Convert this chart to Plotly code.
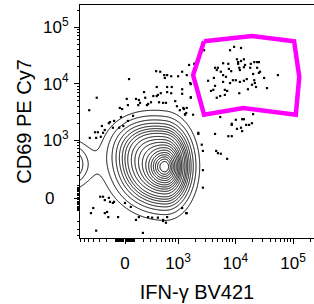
import numpy as np
import plotly.graph_objects as go

# ---------------- axis transform (biexponential-like, display units = decades) ----
LN10 = np.log(10.0)
COF_X = 245.0
COF_Y = 187.0


def disp(v, c):
    return np.arcsinh(np.asarray(v, dtype=float) / c) / LN10


X_RANGE = [-0.78, 3.275]
Y_RANGE = [-0.70, 3.42]

# ---------------- tick labels ----------------
major_vals = [0.0, 1e3, 1e4, 1e5]
x_major_text = ["0", "10<sup>3</sup>", "10<sup>4</sup>", "10<sup>5</sup>"]
y_major_text = ["0&nbsp;&nbsp;&nbsp;", "10<sup>3</sup>", "10<sup>4</sup>", "10<sup>5</sup>"]
minor_mult = [1, 2, 3, 4, 5, 6, 7, 8, 9]
minor_decades = [1e1, 1e2, 1e3, 1e4, 1e5]

# ---------------- outlier events (display units) ----------------
ev_x = [1.11, 1.20, 0.54, 0.61, 0.68, 0.73, 0.80, 0.92, 0.99, 1.07, 0.07, 0.69, 0.55, 0.73,
        0.81, 0.99, 1.13, 0.33, 0.49, 0.55, 0.62, 0.73, 0.80, 0.99, -0.49, 0.19, 0.35, 0.45,
        0.59, 0.66, 0.71, 0.87, 1.14, 0.26, 0.38, -0.62, -0.05, 0.90, 0.95, 1.01, 1.07, 1.04,
        0.14, 0.05, -0.19, -0.28, -0.40, -0.35, -0.21, -0.10, -0.03, -0.52, -0.47, -0.61, -0.50,
        -0.42, -0.38, 1.27, -0.26, -0.07, -0.09, 0.05, 0.23, 0.40, 0.57, 1.02, 1.06, 1.18, 0.03,
        0.24,
        1.21, 1.14, 1.14, 1.65, 1.92, 2.03, 2.06, 2.22, 2.20, 1.85, 1.04, 1.85, 1.94, 2.01, 2.03,
        2.10, 2.15, 1.56, 1.79, 1.85, 1.27, 1.33, 1.58, 1.61, 1.66, 1.77, 1.35, 1.35, 1.35, 1.07,
        0.99, 0.71, 0.66,
        -0.43, -0.35, -0.26, -0.19, -0.55, -0.59, -0.35, -0.29, -0.12, 0.00, 0.10, 0.19, 0.24,
        0.40, 0.47, 0.57, 0.66, 0.73, 1.06, -0.50, 0.31, -0.38, -0.28, -0.21, -0.31]
ev_y = [2.36, 2.38, 2.25, 2.24, 2.18, 2.18, 2.16, 2.16, 2.24, 2.18, 2.11, 2.13, 1.97, 1.97,
        1.97, 1.93, 2.04, 1.88, 1.81, 1.81, 1.86, 1.88, 1.86, 1.85, 1.78, 1.76, 1.78, 1.70,
        1.70, 1.69, 1.69, 1.72, 1.79, 1.69, 1.65, 1.56, 1.58, 1.63, 1.56, 1.60, 1.60, 1.49,
        1.46, 1.37, 1.37, 1.33, 1.28, 1.21, 1.25, 1.25, 1.28, 1.17, 1.17, 1.07, 1.07,
        1.09, 1.16, 1.16, 1.35, 1.44, 1.60, 1.65, 1.65, 1.67, 1.83, 1.58, 1.51, 1.48, 1.76,
        1.74,
        2.38, 2.02, 1.78, 1.44, 1.39, 1.40, 1.40, 1.49, 1.33, 1.32, 1.48, 1.30, 1.23, 1.25, 1.19,
        1.30, 1.30, 1.14, 1.10, 1.10, 1.14, 0.95, 0.84, 0.80, 0.79, 0.70, 0.84, 0.50, 0.19, -0.26,
        -0.17, -0.43, -0.38,
        0.03, -0.03, -0.06, -0.06, -0.17, -0.26, -0.26, -0.33, -0.33, -0.08, -0.15, -0.38, -0.33,
        -0.33, -0.34, -0.34, -0.40, -0.33, -0.26, -0.57, -0.61, 0.03, 0.01, -0.08, -0.24]

# gated events (CD69+ IFN-g+)
gate_ev_x = [1.37, 1.82, 1.89, 2.01, 1.70, 1.79, 1.94, 1.96, 2.01, 2.06, 1.96, 1.56, 1.61, 1.59,
             1.66, 1.80, 1.84, 1.98, 2.06, 2.18, 2.24, 2.29, 2.32, 2.29, 2.34, 2.22, 2.65, 2.41,
             1.54, 1.70, 1.75, 1.87, 1.92, 1.82, 1.99, 2.06, 2.11, 2.24, 1.44, 1.70, 1.56, 2.20,
             2.27, 2.46, 1.49, 1.53, 1.73, 1.77, 2.13, 1.98, 1.65, 1.73, 1.59, 2.08, 1.99, 2.17,
             2.32, 2.25]
gate_ev_y = [2.62, 2.62, 2.68, 2.66, 2.39, 2.38, 2.46, 2.41, 2.43, 2.46, 2.38, 2.31, 2.31, 2.27,
             2.24, 2.29, 2.25, 2.31, 2.32, 2.38, 2.41, 2.41, 2.41, 2.31, 2.24, 2.20, 2.18, 2.13,
             2.13, 2.18, 2.15, 2.09, 2.09, 2.04, 2.06, 2.08, 2.11, 2.09, 2.08, 2.06, 1.99, 2.01,
             1.97, 1.95, 1.90, 1.92, 1.92, 1.90, 1.93, 1.86, 1.81, 1.83, 1.78, 2.36, 2.27, 2.31,
             2.22, 2.04]

# gate polygon vertices (display units)
gate_x = [1.37, 2.20, 2.93, 3.02, 2.96, 2.05, 1.37, 1.18]
gate_y = [2.78, 2.87, 2.78, 2.15, 1.48, 1.60, 1.48, 2.18]

# ---------------- population density model (display units) ----------------
pop_cx = [0.70, 0.26, -1.15, 0.69]
pop_cy = [0.56, 0.98, 0.60, 0.56]
pop_sx_left = [0.45, 0.35, 0.30, 0.13]
pop_sx_right = [0.25, 0.35, 0.30, 0.10]
pop_sy = [0.40, 0.30, 0.26, 0.14]
pop_w = [1.0, 0.12, 0.22, 0.30]
contour_levels = dict(start=0.05, end=0.95, size=0.05)

gx = np.arange(-2.4, 2.4, 0.01)
gy = np.arange(-2.0, 3.0, 0.01)
GX, GY = np.meshgrid(gx, gy)
dens = np.zeros_like(GX)
for cx, cy, sl, sr, sy, w in zip(pop_cx, pop_cy, pop_sx_left, pop_sx_right, pop_sy, pop_w):
    sx = np.where(GX < cx, sl, sr)
    dens += w / (0.5 * (sl + sr) * sy) * np.exp(-0.5 * ((GX - cx) / sx) ** 2 - 0.5 * ((GY - cy) / sy) ** 2)

flat = dens.ravel()
order = np.argsort(-flat)
cum = np.cumsum(flat[order]) / flat.sum()
mass = np.empty_like(flat)
mass[order] = cum
mass = mass.reshape(dens.shape)

xm = (gx >= -0.82) & (gx <= 1.9)
ym = (gy >= -0.74) & (gy <= 2.3)
zc = np.round(mass[np.ix_(ym, xm)], 4)

fig = go.Figure()
fig.add_trace(go.Contour(
    x=np.round(gx[xm], 3), y=np.round(gy[ym], 3), z=zc,
    contours=dict(coloring="lines", **contour_levels),
    colorscale=[[0, "black"], [1, "black"]],
    line=dict(width=1, smoothing=1), showscale=False, hoverinfo="skip"))

fig.add_trace(go.Scatter(
    x=ev_x + gate_ev_x, y=ev_y + gate_ev_y, mode="markers",
    marker=dict(color="black", size=2.2, symbol="square", line=dict(width=0)),
    hoverinfo="skip"))

fig.add_trace(go.Scatter(
    x=gate_x + gate_x[:1], y=gate_y + gate_y[:1], mode="lines",
    line=dict(color="#FF00FF", width=4.5), hoverinfo="skip"))


def minor_list(c, lo, hi):
    vals = []
    for d in minor_decades:
        for m in minor_mult:
            for s in (1, -1):
                u = float(disp(s * m * d, c))
                if lo < u < hi:
                    vals.append(u)
    return sorted(vals)


font = "Liberation Sans, Arial, Helvetica, sans-serif"
common = dict(showgrid=False, zeroline=False, showline=True, linecolor="black", linewidth=1,
              ticks="outside", ticklen=5, tickwidth=1, tickcolor="black", automargin=False,
              tickfont=dict(family=font, size=17, color="black"))

fig.update_layout(
    width=314, height=304, margin=dict(l=80, r=0, t=5, b=66),
    plot_bgcolor="white", paper_bgcolor="white", showlegend=False,
    xaxis=dict(range=X_RANGE, tickmode="array", tickvals=disp(major_vals, COF_X).tolist(),
               ticktext=x_major_text, mirror=True, ticklabelstandoff=5,
               minor=dict(tickmode="array", tickvals=minor_list(COF_X, *X_RANGE), ticks="outside",
                          ticklen=2.5, tickcolor="black", tickwidth=1, showgrid=False),
               title=dict(text="IFN-γ BV421", font=dict(family=font, size=20, color="black"),
                          standoff=12),
               **common),
    yaxis=dict(range=Y_RANGE, tickmode="array", tickvals=disp(major_vals, COF_Y).tolist(),
               ticktext=y_major_text, ticklabelstandoff=2,
               minor=dict(tickmode="array", tickvals=minor_list(COF_Y, *Y_RANGE), ticks="outside",
                          ticklen=2.5, tickcolor="black", tickwidth=1, showgrid=False),
               title=dict(text="CD69 PE Cy7", font=dict(family=font, size=20, color="black"),
                          standoff=6),
               **common),
)

fig.write_html("out.html", config={"displayModeBar": False},
               post_script="document.body.style.margin='0px';")
